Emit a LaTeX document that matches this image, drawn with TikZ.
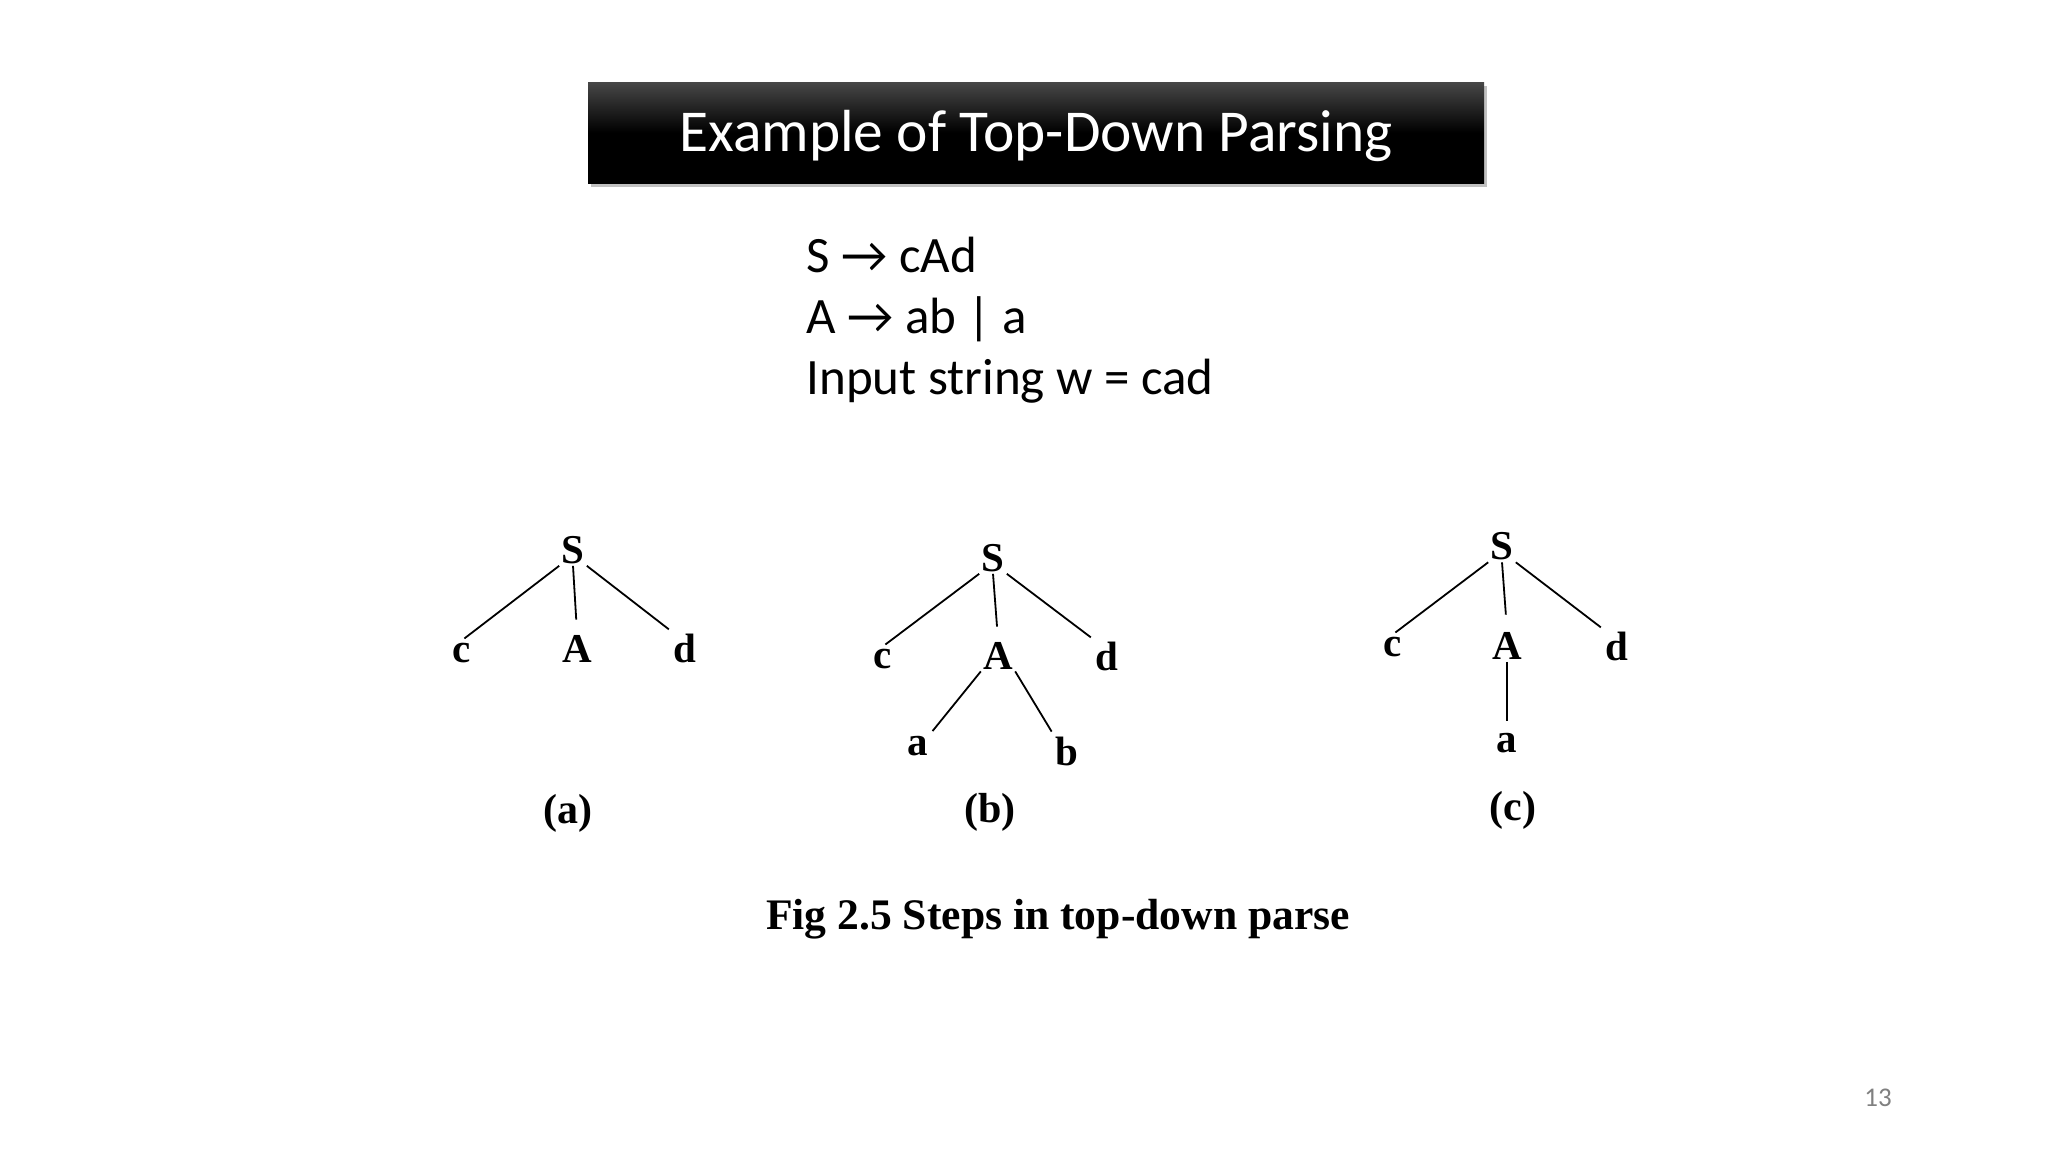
\documentclass[tikz,border=0pt]{standalone}
\usepackage{fontspec}
\setmainfont{Carlito}
\newfontfamily\tnr{Liberation Serif}
\usetikzlibrary{shadows}
\begin{document}
\begin{tikzpicture}[x=0.5pt,y=-0.5pt,
  tn/.style={font=\tnr\bfseries\fontsize{20.5}{24}\selectfont, inner sep=1pt, anchor=base},
  lab/.style={font=\tnr\bfseries\fontsize{21}{24}\selectfont, inner sep=1pt},
  edge/.style={line width=0.9pt, shorten >=1.5pt},
  gram/.style={font=\fontsize{25.5}{30}\selectfont, anchor=base west, inner sep=0pt},
  ]
\useasboundingbox[fill=white] (0,0) rectangle (2048,1152);
% title
\node (titlebox) [minimum width=448pt, minimum height=50.5pt, inner sep=0pt,
  top color=black!72, bottom color=black, middle color=black,
  drop shadow={shadow xshift=1.5pt, shadow yshift=-2pt, opacity=0.4, fill=black!60}] at (1036,132.5) {};
\node (titletext) [font=\fontsize{29.7}{34}\selectfont, text=white, anchor=base, inner sep=0pt] at (1036,151) {Example of Top-Down Parsing};
% grammar
\node (g1) [gram] at (806,272) {S → cAd};
\node (g2) [gram] at (806,333) {A → ab | a};
\node (g3) [gram] at (806,394) {Input string w = cad};
% tree (a)
\node (Sa) [tn] at (573,563) {S};
\node (ca) [tn] at (462,662) {c};
\node (Aa) [tn] at (577,662) {A};
\node (da) [tn] at (685,662) {d};
\node (laba) [lab] at (568,813) {(a)};
\draw[edge] (Sa.south west) -- (ca.north);
\draw[edge, shorten >=6.5pt] (Sa.south) -- (Aa.north);
\draw[edge] (Sa.south east) -- (da.north west);
% tree (b)
\node (Sb) [tn] at (993,571) {S};
\node (cb) [tn] at (883,668) {c};
\node (Ab) [tn] at (998,669) {A};
\node (db) [tn] at (1107,670) {d};
\node (ab) [tn] at (918,755) {a};
\node (bb) [tn] at (1067,765) {b};
\node (labb) [lab] at (990,812) {(b)};
\draw[edge] (Sb.south west) -- (cb.north);
\draw[edge, shorten >=6.5pt] (Sb.south) -- (Ab.north);
\draw[edge] (Sb.south east) -- (db.north west);
\draw[edge] (Ab.south west) -- (ab.north east);
\draw[edge] (Ab.south east) -- (bb.north west);
% tree (c)
\node (Sc) [tn] at (1502,559.5) {S};
\node (cc) [tn] at (1393,656) {c};
\node (Ac) [tn] at (1507,659.5) {A};
\node (dc) [tn] at (1617,660) {d};
\node (ac) [tn] at (1507,752) {a};
\node (labc) [lab] at (1513,810) {(c)};
\draw[edge] (Sc.south west) -- (cc.north);
\draw[edge, shorten >=7.75pt] (Sc.south) -- (Ac.north);
\draw[edge] (Sc.south east) -- (dc.north west);
\draw[edge, shorten >=4.5pt] (Ac.south) -- (ac.north);
% caption
\node (caption) [font=\tnr\bfseries\fontsize{21.8}{25}\selectfont, anchor=base, inner sep=0pt] at (1058,929) {Fig 2.5 Steps in top-down parse};
% page number
\node (pagenum) [font=\fontsize{13.5}{16}\selectfont, text=black!50, inner sep=0pt] at (1878,1098) {13};
\end{tikzpicture}
\end{document}
